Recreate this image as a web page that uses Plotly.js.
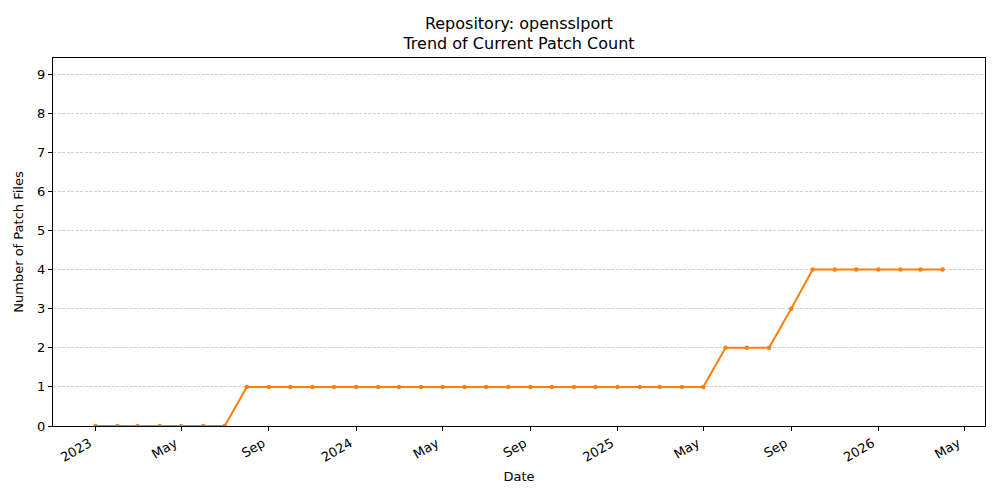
<!DOCTYPE html>
<html>
<head>
<meta charset="utf-8">
<script src="https://cdn.plot.ly/plotly-3.0.1.min.js"></script>
<style>
  html, body { margin: 0; padding: 0; background: #fff; }
  #chart { width: 1000px; height: 500px; }
</style>
</head>
<body>
<div id="chart"></div>
<script>
// monthly snapshots, first day of each month
const months = [
  '2023-01-01', '2023-02-01', '2023-03-01', '2023-04-01', '2023-05-01', '2023-06-01',
  '2023-07-01', '2023-08-01', '2023-09-01', '2023-10-01', '2023-11-01', '2023-12-01',
  '2024-01-01', '2024-02-01', '2024-03-01', '2024-04-01', '2024-05-01', '2024-06-01',
  '2024-07-01', '2024-08-01', '2024-09-01', '2024-10-01', '2024-11-01', '2024-12-01',
  '2025-01-01', '2025-02-01', '2025-03-01', '2025-04-01', '2025-05-01', '2025-06-01',
  '2025-07-01', '2025-08-01', '2025-09-01', '2025-10-01', '2025-11-01', '2025-12-01',
  '2026-01-01', '2026-02-01', '2026-03-01', '2026-04-01'
];
const patchCount = [
  0, 0, 0, 0, 0, 0,
  0, 1, 1, 1, 1, 1,
  1, 1, 1, 1, 1, 1,
  1, 1, 1, 1, 1, 1,
  1, 1, 1, 1, 1, 2,
  2, 2, 3, 4, 4, 4,
  4, 4, 4, 4
];

const tickDates = [
  '2023-01-01', '2023-05-01', '2023-09-01', '2024-01-01', '2024-05-01', '2024-09-01',
  '2025-01-01', '2025-05-01', '2025-09-01', '2026-01-01', '2026-05-01'
];
const tickLabels = ['2023', 'May', 'Sep', '2024', 'May', 'Sep', '2025', 'May', 'Sep', '2026', 'May'];

const data = [{
  x: months,
  y: patchCount,
  type: 'scatter',
  mode: 'lines+markers',
  line: {color: '#ff7f0e', width: 2},
  marker: {color: '#ff7f0e', size: 4.5},
  hoverinfo: 'x+y'
}];

const layout = {
  width: 1000,
  height: 500,
  paper_bgcolor: '#fff',
  plot_bgcolor: '#fff',
  showlegend: false,
  font: {family: 'DejaVu Sans, sans-serif', size: 13, color: '#000'},
  margin: {l: 53, r: 15, t: 58, b: 74},
  title: {
    text: 'Repository: opensslport<br>Trend of Current Patch Count',
    font: {size: 16},
    x: 0.519,
    xanchor: 'center',
    y: 0.943,
    yanchor: 'top'
  },
  xaxis: {
    type: 'date',
    range: ['2022-11-02 17:00', '2026-05-30 07:00'],
    tickvals: tickDates,
    ticktext: tickLabels,
    tickangle: -30,
    ticklabelshift: -6,
    ticks: 'outside',
    ticklen: 4,
    tickcolor: '#000',
    showline: true,
    linecolor: '#000',
    linewidth: 1,
    mirror: true,
    showgrid: false,
    zeroline: false,
    title: {text: 'Date', font: {size: 13}, standoff: 8}
  },
  yaxis: {
    range: [0, 9.41],
    tickvals: [0, 1, 2, 3, 4, 5, 6, 7, 8, 9],
    ticks: 'outside',
    ticklen: 4,
    tickcolor: '#000',
    showline: true,
    linecolor: '#000',
    linewidth: 1,
    mirror: true,
    showgrid: true,
    gridcolor: '#b0b0b0',
    griddash: '3px,1.5px',
    gridwidth: 0.6,
    zeroline: false,
    title: {text: 'Number of Patch Files', font: {size: 13}, standoff: 10}
  }
};

Plotly.newPlot('chart', data, layout, {displayModeBar: false, staticPlot: true});
</script>
</body>
</html>
